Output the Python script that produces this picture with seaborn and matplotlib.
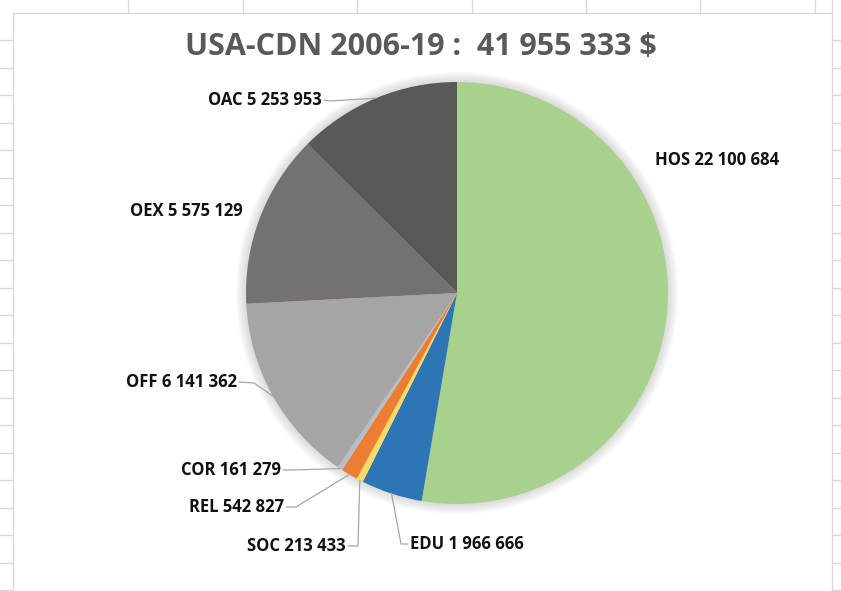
import numpy as np
import matplotlib
matplotlib.use("Agg")
import matplotlib.pyplot as plt
import seaborn as sns
from matplotlib.patches import Circle
from matplotlib.lines import Line2D

categories = ["HOS", "EDU", "SOC", "REL", "COR", "OFF", "OEX", "OAC"]
values = [22100684, 1966666, 213433, 542827, 161279, 6141362, 5575129, 5253953]
colors = ["#A9D18E", "#2E75B6", "#FFD966", "#ED7D31", "#B4BFCB", "#A5A5A5", "#767171", "#595959"]
title = "USA-CDN 2006-19 :  41 955 333 $"

def fmt(v):
    return f"{v:,}".replace(",", " ")

sns.set_theme(style="white")
plt.rcParams['font.family'] = ['Open Sans', 'DejaVu Sans']

W, H = 841, 591
fig = plt.figure(figsize=(W / 100, H / 100), dpi=100)
fig.patch.set_facecolor("white")

# spreadsheet gridlines around the chart area (decoration)
gc = "#D9D9D9"
def fx(px): return px / W
def fy(py): return 1 - py / H
for gx in [128, 243, 357, 472, 586, 700, 815]:
    fig.add_artist(Line2D([fx(gx), fx(gx)], [fy(0), fy(13)], color=gc, lw=1))
for k in range(1, 22):
    gy = 12.5 + 27.5 * k
    fig.add_artist(Line2D([fx(0), fx(13)], [fy(gy), fy(gy)], color=gc, lw=1))
    fig.add_artist(Line2D([fx(832), fx(841)], [fy(gy), fy(gy)], color=gc, lw=1))
# chart area border
fig.add_artist(Line2D([fx(13), fx(832)], [fy(13), fy(13)], color=gc, lw=1))
fig.add_artist(Line2D([fx(13), fx(13)], [fy(13), fy(591)], color=gc, lw=1))
fig.add_artist(Line2D([fx(832), fx(832)], [fy(0), fy(591)], color=gc, lw=1))

fig.text(fx(421), fy(47), title, ha="center", va="center", fontsize=22,
         fontweight="bold", color="#595959")

cx, cy, R = 457, 293, 211
ax = fig.add_axes([(cx - R) / W, 1 - (cy + R) / H, 2 * R / W, 2 * R / H])
# soft shadow
for k in range(8):
    ax.add_patch(Circle((0, 0), 1 + 0.006 * (k + 1), color="#808080",
                        alpha=0.035, lw=0, zorder=0))
wedges, _ = ax.pie(values, colors=colors, startangle=90, counterclock=False,
                   radius=1, wedgeprops=dict(linewidth=0))
ax.set_xlim(-1.05, 1.05)
ax.set_ylim(-1.05, 1.05)
ax.set_position([(cx - R * 1.05) / W, 1 - (cy + R * 1.05) / H, 2.1 * R / W, 2.1 * R / H])
ax.set_aspect("equal")
ax.axis("off")

def to_data(px, py):
    return (px - cx) / R, (cy - py) / R

# label layout: (text x, text y, ha, elbow point or None)
layout = {
    "HOS": (655, 160, "left", None),
    "EDU": (410, 544, "left", (401, 544)),
    "SOC": (346, 546, "right", (358, 546)),
    "REL": (284, 507, "right", (296, 507)),
    "COR": (281, 470, "right", (292, 470)),
    "OFF": (237, 382, "right", (254, 383)),
    "OEX": (243, 211, "right", None),
    "OAC": (322, 100, "right", (330, 101)),
}

for w, cat, v in zip(wedges, categories, values):
    tx, ty, ha, elbow = layout[cat]
    dx, dy = to_data(tx, ty)
    ax.text(dx, dy, f"{cat} {fmt(v)}", ha=ha, va="center", fontsize=12,
            fontweight="bold", color="#111111", clip_on=False, zorder=5)
    if elbow is not None:
        th = np.deg2rad((w.theta1 + w.theta2) / 2)
        ex, ey = to_data(*elbow)
        sx = dx + (0.01 if ha == "right" else -0.01)
        ax.plot([sx, ex, np.cos(th)], [dy, ey, np.sin(th)], color="#A6A6A6",
                lw=0.9, clip_on=False, zorder=4)

fig.savefig("out.png", dpi=100)
